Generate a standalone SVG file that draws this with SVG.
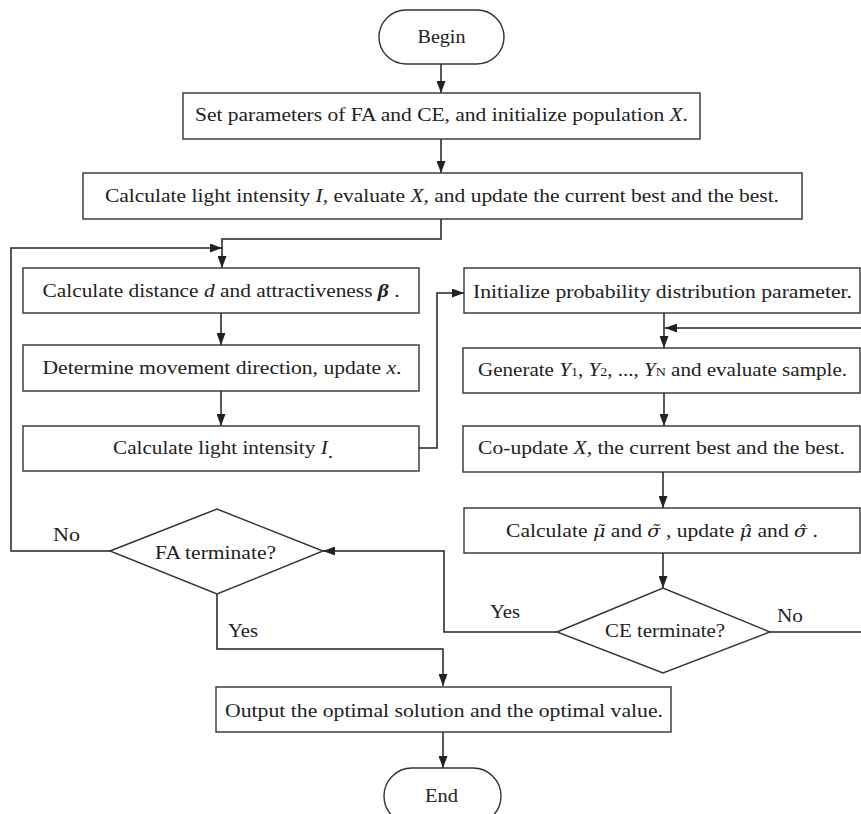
<svg xmlns="http://www.w3.org/2000/svg" width="861" height="814" viewBox="0 0 861 814">
<style>
  .box { fill: #fff; stroke: #333; stroke-width: 1.4; }
  .t { font-family: "Liberation Serif", "Times New Roman", serif; font-size: 18px; fill: #222; text-anchor: middle; }
  .lbl { font-family: "Liberation Serif", "Times New Roman", serif; font-size: 18px; fill: #222; }
  .i { font-style: italic; }
  .m { font-family: "DejaVu Serif", serif; font-style: italic; font-size: 16px; }
  .sub { font-size: 12px; }
  .c { fill: none; stroke: #222; stroke-width: 1.5; }
</style>
<defs>
  <marker id="ah" viewBox="0 0 12 9" refX="12" refY="4.5" markerWidth="12" markerHeight="9" markerUnits="userSpaceOnUse" orient="auto">
    <path d="M0,0 L12,4.5 L0,9 z" fill="#222"/>
  </marker>
</defs>
<rect width="861" height="814" fill="#fff"/>

<g id="connectors">
  <path class="c" d="M441,64 V93" marker-end="url(#ah)"/>
  <path class="c" d="M441,139 V173" marker-end="url(#ah)"/>
  <path class="c" d="M441,219 V239 H222 V268" marker-end="url(#ah)"/>
  <path class="c" d="M110,551 H11 V248 H222" marker-end="url(#ah)"/>
  <path class="c" d="M221,313 V345" marker-end="url(#ah)"/>
  <path class="c" d="M221,391 V426" marker-end="url(#ah)"/>
  <path class="c" d="M419,448 H437 V293 H464" marker-end="url(#ah)"/>
  <path class="c" d="M664,313 V348" marker-end="url(#ah)"/>
  <path class="c" d="M770,632 H872 V328 H665" marker-end="url(#ah)"/>
  <path class="c" d="M664,393 V426" marker-end="url(#ah)"/>
  <path class="c" d="M663,472 V508" marker-end="url(#ah)"/>
  <path class="c" d="M663,553 V588" marker-end="url(#ah)"/>
  <path class="c" d="M557,632 H444 V551 H323" marker-end="url(#ah)"/>
  <path class="c" d="M217,594 V649 H443 V686" marker-end="url(#ah)"/>
  <path class="c" d="M443,732 V768" marker-end="url(#ah)"/>
</g>

<g id="begin">
  <rect class="box" x="379" y="10" width="125" height="54" rx="27" ry="27"/>
  <text class="t" x="441.5" y="43" textLength="48" lengthAdjust="spacingAndGlyphs">Begin</text>
</g>

<g id="init">
  <rect class="box" x="183" y="93" width="517" height="46"/>
  <text class="t" x="441.5" y="121" textLength="493" lengthAdjust="spacingAndGlyphs">Set parameters of FA and CE, and initialize population <tspan class="i">X</tspan>.</text>
</g>

<g id="evaluate">
  <rect class="box" x="83" y="173" width="719" height="46"/>
  <text class="t" x="442" y="202" textLength="674" lengthAdjust="spacingAndGlyphs">Calculate light intensity <tspan class="i">I,</tspan> evaluate <tspan class="i">X,</tspan> and update the current best and the best.</text>
</g>

<g id="distance">
  <rect class="box" x="23" y="268" width="396" height="45"/>
  <text class="t" x="221" y="297" textLength="357" lengthAdjust="spacingAndGlyphs">Calculate distance <tspan class="i">d</tspan> and attractiveness <tspan class="i" font-weight="bold">β</tspan> .</text>
</g>

<g id="move">
  <rect class="box" x="23" y="345" width="396" height="46"/>
  <text class="t" x="222" y="374" textLength="359" lengthAdjust="spacingAndGlyphs">Determine movement direction, update <tspan class="i">x</tspan>.</text>
</g>

<g id="light">
  <rect class="box" x="23" y="426" width="396" height="45"/>
  <text class="t" x="223" y="454" textLength="220" lengthAdjust="spacingAndGlyphs">Calculate light intensity <tspan class="i">I</tspan><tspan dy="4">.</tspan></text>
</g>

<g id="ce-init">
  <rect class="box" x="464" y="268" width="396" height="45"/>
  <text class="t" x="662.5" y="298" textLength="379" lengthAdjust="spacingAndGlyphs">Initialize probability distribution parameter.</text>
</g>

<g id="generate">
  <rect class="box" x="463" y="348" width="397" height="45"/>
  <text class="t" x="662.5" y="376" textLength="369" lengthAdjust="spacingAndGlyphs">Generate <tspan class="i">Y</tspan><tspan class="sub">1</tspan>, <tspan class="i">Y</tspan><tspan class="sub">2</tspan>, ..., <tspan class="i">Y</tspan><tspan class="sub">N</tspan> and evaluate sample.</text>
</g>

<g id="coupdate">
  <rect class="box" x="463" y="426" width="397" height="46"/>
  <text class="t" x="661.5" y="454" textLength="367" lengthAdjust="spacingAndGlyphs">Co-update <tspan class="i">X,</tspan> the current best and the best.</text>
</g>

<g id="params">
  <rect class="box" x="464" y="508" width="396" height="45"/>
  <text class="t" x="662" y="537" textLength="312" lengthAdjust="spacingAndGlyphs">Calculate <tspan class="m">μ̃</tspan> and <tspan class="m">σ̃</tspan> , update <tspan class="m">μ̂</tspan> and <tspan class="m">σ̂</tspan> .</text>
</g>

<g id="fa-terminate">
  <polygon class="box" points="110,551 217,509 323,551 217,594"/>
  <text class="t" x="215.5" y="559" textLength="121" lengthAdjust="spacingAndGlyphs">FA terminate?</text>
  <text class="lbl" x="53" y="541" textLength="27" lengthAdjust="spacingAndGlyphs">No</text>
  <text class="lbl" x="228" y="637" textLength="30" lengthAdjust="spacingAndGlyphs">Yes</text>
</g>

<g id="ce-terminate">
  <polygon class="box" points="557,632 663,588 770,632 663,673"/>
  <text class="t" x="665" y="637" textLength="120" lengthAdjust="spacingAndGlyphs">CE terminate?</text>
  <text class="lbl" x="490" y="618" textLength="30" lengthAdjust="spacingAndGlyphs">Yes</text>
  <text class="lbl" x="777" y="622" textLength="26" lengthAdjust="spacingAndGlyphs">No</text>
</g>

<g id="output">
  <rect class="box" x="216" y="687" width="455" height="45"/>
  <text class="t" x="444" y="717" textLength="438" lengthAdjust="spacingAndGlyphs">Output the optimal solution and the optimal value.</text>
</g>

<g id="end">
  <rect class="box" x="384" y="768" width="117" height="56" rx="28" ry="28"/>
  <text class="t" x="441.5" y="802" textLength="33" lengthAdjust="spacingAndGlyphs">End</text>
</g>
</svg>
